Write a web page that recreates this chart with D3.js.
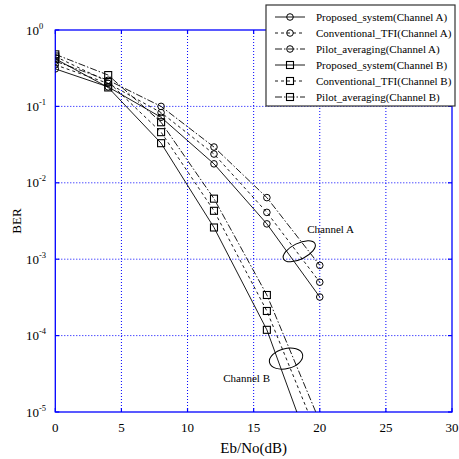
<!DOCTYPE html>
<html>
<head>
<meta charset="utf-8">
<title>BER vs Eb/No</title>
<script src="https://d3js.org/d3.v7.min.js"></script>
<style>
  body { margin: 0; background: #fff; }
  svg text { font-family: "Liberation Serif", "Times New Roman", serif; fill: #000; }
  .grid line { stroke: #0000ff; stroke-width: 1; stroke-dasharray: 1,2; }
  .frame { fill: none; stroke: #0000ff; stroke-width: 1.3; }
</style>
</head>
<body>
<svg width="459" height="459"></svg>
<script>
// Eb/No points (dB)
var snr = [0, 4, 8, 12, 16, 20];

// BER, channel A (circles)
var propA  = [0.31, 0.18, 0.072, 0.0177, 0.0029, 0.00032];
var convA  = [0.35, 0.20, 0.083, 0.0238, 0.0041, 0.0005];
var pilotA = [0.39, 0.22, 0.100, 0.0294, 0.0064, 0.00083];

// BER, channel B (squares)
var propB  = [0.42, 0.177, 0.033, 0.0026, 0.000119, 0.0000015];
var convB  = [0.45, 0.21, 0.046, 0.0043, 0.00021, 0.0000042];
var pilotB = [0.48, 0.257, 0.062, 0.0062, 0.00034, 0.0000075];

var xTicks = [0, 5, 10, 15, 20, 25, 30];
var yTicks = [1, 1e-1, 1e-2, 1e-3, 1e-4, 1e-5];

var series = [
  { name: "Proposed_system(Channel A)",    y: propA,  marker: "circle", dash: null },
  { name: "Conventional_TFI(Channel A)",   y: convA,  marker: "circle", dash: "3,3" },
  { name: "Pilot_averaging(Channel A)",    y: pilotA, marker: "circle", dash: "7,2,1.5,2" },
  { name: "Proposed_system(Channel B)",    y: propB,  marker: "square", dash: null },
  { name: "Conventional_TFI(Channel B)",   y: convB,  marker: "square", dash: "3,3" },
  { name: "Pilot_averaging(Channel B)",    y: pilotB, marker: "square", dash: "7,2,1.5,2" }
];

var svg = d3.select("svg");
var pLeft = 55.3, pRight = 452, pTop = 30, pBottom = 412;

var x = d3.scaleLinear().domain([0, 30]).range([pLeft, pRight]);
var y = d3.scaleLog().domain([1e-5, 1]).range([pBottom, pTop]);

svg.append("defs").append("clipPath").attr("id", "plotclip")
   .append("rect")
   .attr("x", pLeft).attr("y", pTop)
   .attr("width", pRight - pLeft).attr("height", pBottom - pTop);

// grid
var grid = svg.append("g").attr("class", "grid");
grid.selectAll(".gx").data(xTicks.slice(1, -1)).enter().append("line")
    .attr("x1", function(d) { return x(d); }).attr("x2", function(d) { return x(d); })
    .attr("y1", pTop).attr("y2", pBottom);
grid.selectAll(".gy").data(yTicks.slice(1, -1)).enter().append("line")
    .attr("y1", function(d) { return y(d); }).attr("y2", function(d) { return y(d); })
    .attr("x1", pLeft).attr("x2", pRight);

// frame and inward ticks
svg.append("rect").attr("class", "frame")
   .attr("x", pLeft).attr("y", pTop).attr("width", pRight - pLeft).attr("height", pBottom - pTop);

var ticks = svg.append("g").attr("stroke", "#0000ff").attr("stroke-width", 1.2);
xTicks.forEach(function(t) {
  ticks.append("line").attr("x1", x(t)).attr("x2", x(t)).attr("y1", pBottom).attr("y2", pBottom - 4);
  ticks.append("line").attr("x1", x(t)).attr("x2", x(t)).attr("y1", pTop).attr("y2", pTop + 4);
});
yTicks.forEach(function(t) {
  ticks.append("line").attr("y1", y(t)).attr("y2", y(t)).attr("x1", pLeft).attr("x2", pLeft + 4);
  ticks.append("line").attr("y1", y(t)).attr("y2", y(t)).attr("x1", pRight).attr("x2", pRight - 4);
});

// tick labels
svg.append("g").selectAll("text").data(xTicks).enter().append("text")
   .attr("x", function(d) { return x(d); })
   .attr("y", 432)
   .attr("text-anchor", "middle")
   .style("font-size", "13px")
   .text(function(d) { return d; });

var yl = svg.append("g").selectAll("text").data(yTicks).enter().append("text")
   .attr("x", 26)
   .attr("y", function(d) { return y(d) + 4.5; })
   .style("font-size", "13px");
yl.append("tspan").text("10");
yl.append("tspan")
  .attr("dy", -6)
  .style("font-size", "8.5px")
  .text(function(d) { var e = Math.round(Math.log10(d)); return e === 0 ? "0" : "-" + Math.abs(e); });

// axis labels
svg.append("text")
   .attr("transform", "translate(21," + ((pTop + pBottom) / 2) + ") rotate(-90)")
   .attr("text-anchor", "middle")
   .style("font-size", "13px")
   .text("BER");
svg.append("text")
   .attr("x", (pLeft + pRight) / 2)
   .attr("y", 453)
   .attr("text-anchor", "middle")
   .style("font-size", "15px")
   .text("Eb/No(dB)");

// curves
var plot = svg.append("g").attr("clip-path", "url(#plotclip)");
var line = d3.line()
   .x(function(d) { return x(d[0]); })
   .y(function(d) { return y(d[1]); });

function drawMarker(g, kind, cx, cy) {
  if (kind === "circle") {
    g.append("circle").attr("cx", cx).attr("cy", cy).attr("r", 3.3)
     .attr("fill", "none").attr("stroke", "#000").attr("stroke-width", 1);
  } else {
    g.append("rect").attr("x", cx - 3.5).attr("y", cy - 3.5).attr("width", 7).attr("height", 7)
     .attr("fill", "none").attr("stroke", "#000").attr("stroke-width", 1.1);
  }
}

series.forEach(function(s) {
  var pts = snr.map(function(v, i) { return [v, s.y[i]]; });
  plot.append("path")
      .datum(pts)
      .attr("d", line)
      .attr("fill", "none")
      .attr("stroke", "#000")
      .attr("stroke-width", 0.9)
      .attr("stroke-dasharray", s.dash);
  pts.forEach(function(p) {
    if (p[1] >= 1e-5) drawMarker(plot, s.marker, x(p[0]), y(p[1]));
  });
});

// channel annotations
var ann = svg.append("g").attr("fill", "none").attr("stroke", "#000").attr("stroke-width", 1);
ann.append("ellipse")
   .attr("transform", "translate(" + x(18.45) + "," + y(1.27e-3) + ") rotate(-26)")
   .attr("rx", 17.5).attr("ry", 8);
ann.append("ellipse")
   .attr("transform", "translate(" + x(17.45) + "," + y(5.0e-5) + ") rotate(-14)")
   .attr("rx", 17).attr("ry", 10);
svg.append("text").attr("x", x(19.05)).attr("y", y(2.47e-3) + 4)
   .style("font-size", "11px").text("Channel A");
svg.append("text").attr("x", x(12.7)).attr("y", y(2.75e-5) + 4)
   .style("font-size", "11px").text("Channel B");

// legend
var legend = svg.append("g");
legend.append("rect")
   .attr("x", 266).attr("y", 5).attr("width", 189).attr("height", 101)
   .attr("fill", "#fff").attr("stroke", "#333").attr("stroke-width", 1.2);
series.forEach(function(s, i) {
  var ly = 17 + i * 16;
  legend.append("line")
     .attr("x1", 275).attr("x2", 305).attr("y1", ly).attr("y2", ly)
     .attr("stroke", "#000").attr("stroke-width", 0.9)
     .attr("stroke-dasharray", s.dash);
  drawMarker(legend, s.marker, 290, ly);
  legend.append("text")
     .attr("x", 316).attr("y", ly + 3.8)
     .style("font-size", "11px")
     .text(s.name);
});
</script>
</body>
</html>
